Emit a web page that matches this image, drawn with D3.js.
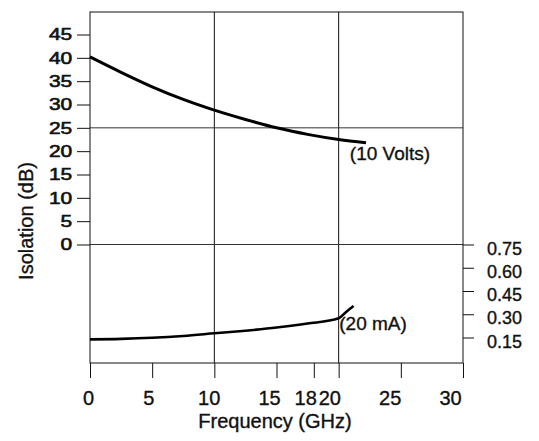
<!DOCTYPE html>
<html>
<head>
<meta charset="utf-8">
<script src="https://cdn.jsdelivr.net/npm/d3@7"></script>
<style>
  body { margin: 0; background: #fff; }
  svg { display: block; font-family: 'Liberation Sans', Arial, sans-serif; }
  svg text { stroke: #111; stroke-width: 0.35px; }
</style>
</head>
<body>
<div id="chart"></div>
<script>
// Data
const freqTicks = [0, 5, 10, 15, 18, 20, 25, 30];
const isoTicks = [0, 5, 10, 15, 20, 25, 30, 35, 40, 45];
const currentTicks = [0.15, 0.30, 0.45, 0.60, 0.75];

const freq10V = [0, 2.5, 5, 7.5, 10, 12.5, 15, 17.5, 20, 22.2];
const iso10V = [40.2, 36.9, 33.8, 31.1, 28.8, 26.8, 25.0, 23.6, 22.5, 21.8];

const freq20mA = [0, 2.5, 5, 7.5, 10, 12.5, 15, 17.5, 20, 20.6, 21.2];
const val20mA = [0.138, 0.141, 0.148, 0.16, 0.177, 0.194, 0.214, 0.24, 0.274, 0.315, 0.353];

const W = 539;
const H = 441;
const box = { left: 90, right: 463, top: 12, bottom: 363 };

const svg = d3.select('#chart')
  .append('svg')
  .attr('width', W)
  .attr('height', H);

svg.append('rect').attr('width', W).attr('height', H).attr('fill', '#fff');

const x = d3.scaleLinear().domain([0, 30]).range([box.left, box.right]);
// tick labels in the scan sit a bit left of their ticks
const xLabel = d3.scaleLinear().domain([0, 30]).range([88, 450]);
const yL = d3.scaleLinear().domain([0, 45]).range([244.5, 34.5]);
const yR = d3.scaleLinear().domain([0, 0.75]).range([360.75, 244.5]);

// grid lines
svg.selectAll('.vgrid')
  .data([10, 20])
  .enter()
  .append('line')
  .attr('x1', d => x(d))
  .attr('x2', d => x(d))
  .attr('y1', box.top)
  .attr('y2', box.bottom)
  .style('stroke', '#111')
  .style('stroke-width', '1px');

svg.selectAll('.hgrid')
  .data([25, 0])
  .enter()
  .append('line')
  .attr('x1', box.left)
  .attr('x2', box.right)
  .attr('y1', d => yL(d))
  .attr('y2', d => yL(d))
  .style('stroke', '#333')
  .style('stroke-width', '1px');

// frame
svg.append('rect')
  .attr('x', box.left)
  .attr('y', box.top)
  .attr('width', box.right - box.left)
  .attr('height', box.bottom - box.top)
  .attr('fill', 'none')
  .style('stroke', '#111')
  .style('stroke-width', '1px');

// bottom ticks
const xTicks = svg.append('g')
  .attr('transform', `translate(0, ${box.bottom})`)
  .call(d3.axisBottom(x).tickValues(freqTicks).tickSize(15).tickFormat(''));
xTicks.select('.domain').remove();
xTicks.selectAll('line').style('stroke', '#111');

const xLabels = svg.append('g')
  .attr('transform', `translate(0, ${box.bottom})`)
  .call(d3.axisBottom(xLabel).tickValues(freqTicks).tickSize(0).tickPadding(28));
xLabels.select('.domain').remove();
xLabels.selectAll('text')
  .style('font-family', "'Liberation Sans', Arial, sans-serif")
  .style('font-size', '20px')
  .attr('fill', '#111');

// left axis
const left = svg.append('g')
  .attr('transform', `translate(${box.left}, 0)`)
  .call(d3.axisLeft(yL).tickValues(isoTicks).tickSize(13).tickPadding(1));
left.select('.domain').remove();
left.selectAll('line').style('stroke', '#111');
left.selectAll('text')
  .style('font-family', "'Liberation Sans', Arial, sans-serif")
  .style('font-size', '16.5px')
  .style('stroke-width', '0.6px')
  .attr('fill', '#111')
  .attr('transform', 'scale(1.27, 1)');

// right axis
const right = svg.append('g')
  .attr('transform', `translate(${box.right}, 0)`)
  .call(d3.axisRight(yR).tickValues(currentTicks).tickSize(11).tickPadding(13)
    .tickFormat(d3.format('.2f')));
right.select('.domain').remove();
right.selectAll('line').style('stroke', '#111');
right.selectAll('text')
  .style('font-family', "'Liberation Sans', Arial, sans-serif")
  .style('font-size', '18px')
  .attr('dy', '0.54em')
  .attr('fill', '#111');

// curves
const line10V = d3.line()
  .x(i => x(freq10V[i]))
  .y(i => yL(iso10V[i]))
  .curve(d3.curveMonotoneX);

svg.append('path')
  .attr('d', line10V(d3.range(freq10V.length)))
  .attr('fill', 'none')
  .style('stroke', '#000')
  .style('stroke-width', '3px');

const line20mA = d3.line()
  .x(i => x(freq20mA[i]))
  .y(i => yR(val20mA[i]))
  .curve(d3.curveMonotoneX);

svg.append('path')
  .attr('d', line20mA(d3.range(freq20mA.length)))
  .attr('fill', 'none')
  .style('stroke', '#000')
  .style('stroke-width', '2.6px');

// curve labels
svg.append('text')
  .attr('x', x(20.9))
  .attr('y', yL(18.1))
  .style('font-size', '19px')
  .attr('fill', '#111')
  .text('(10 Volts)');

svg.append('text')
  .attr('x', x(20.05))
  .attr('y', yR(0.198))
  .style('font-size', '19px')
  .attr('fill', '#111')
  .text('(20 mA)');

// axis titles
svg.append('text')
  .attr('x', 275)
  .attr('y', 428)
  .attr('text-anchor', 'middle')
  .style('font-size', '20px')
  .attr('fill', '#111')
  .text('Frequency (GHz)');

svg.append('text')
  .attr('transform', 'translate(33, 221) rotate(-90)')
  .attr('text-anchor', 'middle')
  .style('font-size', '20px')
  .attr('fill', '#111')
  .text('Isolation (dB)');
</script>
</body>
</html>
